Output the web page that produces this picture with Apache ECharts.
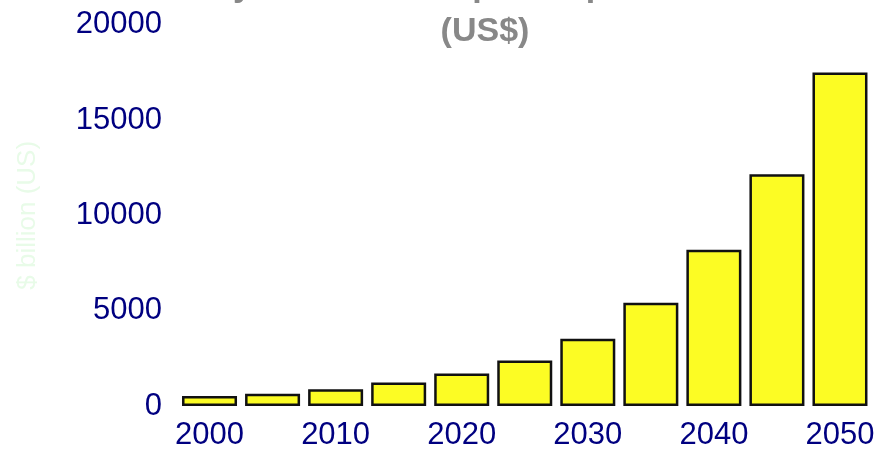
<!DOCTYPE html>
<html>
<head>
<meta charset="utf-8">
<script src="https://cdn.jsdelivr.net/npm/echarts@6/dist/echarts.min.js"></script>
<style>
  html, body { margin: 0; padding: 0; background: #fff; }
  #chart { width: 884px; height: 451px; }
</style>
</head>
<body>
<div id="chart"></div>
<script>
// year buckets and projected values ($ billion)
let years = ['2000', '2005', '2010', '2015', '2020', '2025', '2030', '2035', '2040', '2045', '2050'];
let gdp = [530, 640, 880, 1230, 1700, 2390, 3530, 5410, 8190, 12150, 17490];
let yTicks = [0, 5000, 10000, 15000, 20000];

let font = '"Liberation Sans", Arial, sans-serif';

let option = {
    animation: false,
    title: {
        text: 'Country Total GDP in past & present & future\n(US$)',
        left: 480,
        top: -41,
        textAlign: 'center',
        textStyle: {
            fontFamily: font,
            fontSize: 34,
            fontWeight: 'bold',
            color: '#888888',
            lineHeight: 45
        }
    },
    grid: {
        left: 178,
        right: 12.5,
        top: 24.7,
        bottom: 43.5
    },
    xAxis: {
        type: 'category',
        data: years,
        axisLine: { show: false },
        axisTick: { show: false },
        axisLabel: {
            interval: 1,
            margin: 14,
            color: '#000080',
            fontFamily: font,
            fontSize: 31
        }
    },
    yAxis: {
        type: 'value',
        min: yTicks[0],
        max: yTicks[yTicks.length - 1],
        interval: yTicks[1] - yTicks[0],
        name: '$ billion (US)',
        nameLocation: 'middle',
        nameGap: 137,
        nameTextStyle: {
            color: '#e8fbe8',
            fontFamily: font,
            fontSize: 26
        },
        axisLine: { show: false },
        axisTick: { show: false },
        splitLine: { show: false },
        axisLabel: {
            margin: 16,
            color: '#000080',
            fontFamily: font,
            fontSize: 31,
            formatter: v => String(v)
        }
    },
    series: [{
        type: 'bar',
        data: gdp,
        barWidth: 55,
        itemStyle: {
            color: '#fcfc24',
            borderColor: '#111111',
            borderWidth: 2.5
        }
    }]
};

let myChart = echarts.init(document.getElementById('chart'));
myChart.setOption(option);
</script>
</body>
</html>
